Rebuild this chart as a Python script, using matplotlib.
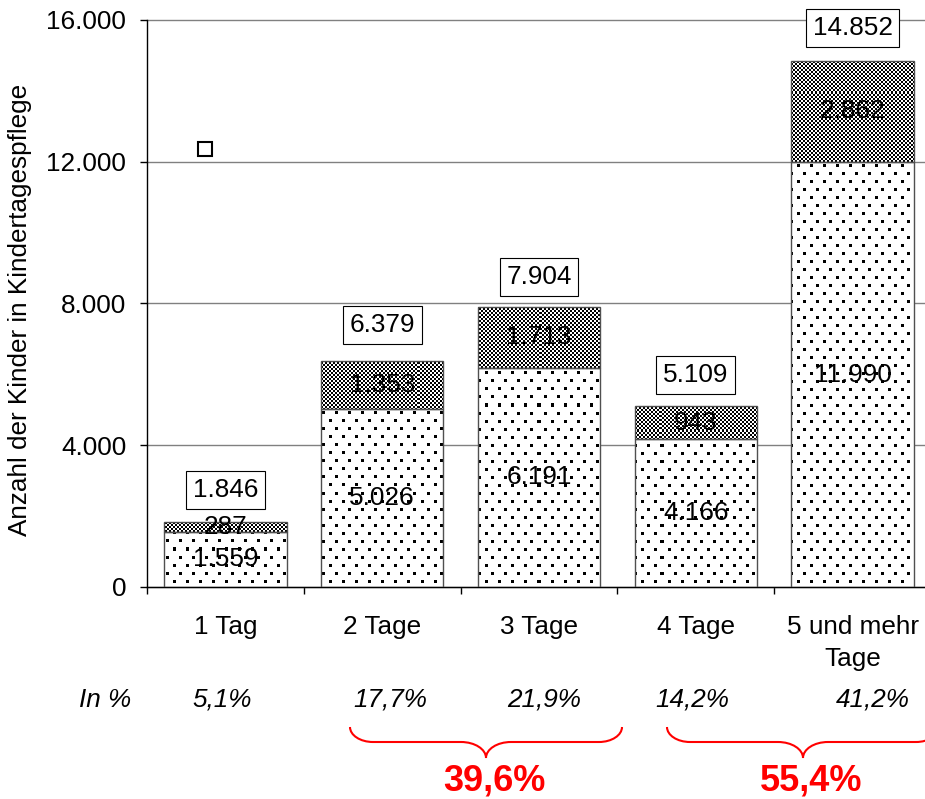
import numpy as np
import matplotlib
matplotlib.use("Agg")
import matplotlib.pyplot as plt
from matplotlib.path import Path
from matplotlib.patches import PathPatch
from matplotlib.transforms import Affine2D, blended_transform_factory
from matplotlib.ticker import FuncFormatter, FixedLocator

# ---------------- data ----------------
categories = ["1 Tag", "2 Tage", "3 Tage", "4 Tage", "5 und mehr\nTage"]
base_values = [1559, 5026, 6191, 4166, 11990]
top_values = [287, 1353, 1713, 943, 2862]
totals = [1846, 6379, 7904, 5109, 14852]
shares = ["5,1%", "17,7%", "21,9%", "14,2%", "41,2%"]
share_title = "In %"
group_totals = ["39,6%", "55,4%"]
y_ticks = [0, 4000, 8000, 12000, 16000]
y_label = "Anzahl der Kinder in Kindertagespflege"
stray_marker = (-0.13, 12360)

# ---------------- layout / style ----------------
total_label_y = [2737, 7393, 8748, 5982, 15774]
share_x_offset = [-0.02, 0.05, 0.03, -0.02, 0.13]
FW, FH = 925, 799
plt.rcParams["font.family"] = ["Liberation Sans", "DejaVu Sans"]
FS = 18.8

fig = plt.figure(figsize=(FW / 100, FH / 100), dpi=100)
AX_L, AX_T, AX_W, AX_H = 147, 20, 784, 567
ax = fig.add_axes([AX_L / FW, 1 - (AX_T + AX_H) / FH, AX_W / FW, AX_H / FH])
px = Affine2D().scale(1 / FW, -1 / FH).translate(0, 1) + fig.transFigure

x = np.arange(len(categories))
XL = (-0.5, len(categories) - 0.5)
YL = (0, 16000)

bars_base = ax.bar(x, base_values, width=0.78, facecolor="none",
                   edgecolor="#505050", linewidth=1, zorder=3)
bars_top = ax.bar(x, top_values, bottom=base_values, width=0.78, facecolor="none",
                  edgecolor="#505050", linewidth=1, zorder=3)

# fill textures (dotted / checkerboard), clipped to each bar
rr, cc = np.mgrid[0:AX_H, 0:AX_W]
dots = np.ones((AX_H, AX_W))
rowA = (rr % 16) < 3
rowB = ((rr - 8) % 16) < 3
colA = (cc % 13) < 3
colB = ((cc - 6) % 13) < 3
dots[(rowA & colA) | (rowB & colB)] = 0.0
checker = np.where(((rr // 2) + (cc // 2)) % 2 == 0, 0.0, 1.0)

for patches, tex in ((bars_base, dots), (bars_top, checker)):
    for p in patches:
        im = ax.imshow(tex, extent=(XL[0], XL[1], YL[0], YL[1]), origin="upper",
                       cmap="gray", vmin=0, vmax=1, interpolation="nearest",
                       aspect="auto", zorder=2)
        im.set_clip_path(p)

ax.set_xlim(*XL)
ax.set_ylim(*YL)

# segment labels
for i in range(len(categories)):
    ax.text(x[i], base_values[i] / 2, f"{base_values[i]:,}".replace(",", "."),
            ha="center", va="center", fontsize=FS, color="black", zorder=6)
    ax.text(x[i], base_values[i] + top_values[i] / 2, f"{top_values[i]:,}".replace(",", "."),
            ha="center", va="center", fontsize=FS, color="black", zorder=6)
    ax.text(x[i], total_label_y[i], f"{totals[i]:,}".replace(",", "."),
            ha="center", va="center", fontsize=FS, color="black", zorder=7,
            bbox=dict(boxstyle="square,pad=0.26", fc="white", ec="black", lw=0.8))

ax.plot([stray_marker[0]], [stray_marker[1]], marker="s", ms=10.5, mfc="white",
        mec="black", mew=1.5, linestyle="none", zorder=6, clip_on=False)

# axes styling
ax.yaxis.set_major_locator(FixedLocator(y_ticks))
ax.yaxis.set_major_formatter(FuncFormatter(lambda v, _: f"{int(v):,}".replace(",", ".")))
ax.set_xticks(x)
ax.set_xticklabels(categories)
for tl in ax.get_xticklabels():
    tl.set_linespacing(1.45)
ax.set_xticks(np.arange(len(categories) + 1) - 0.5, minor=True)
ax.tick_params(axis="x", which="major", length=0, pad=20, labelsize=FS)
ax.tick_params(axis="x", which="minor", length=5, width=1, color="black")
ax.tick_params(axis="y", length=5, width=1, pad=10, labelsize=FS, color="black")
ax.yaxis.grid(True, color="#808080", linewidth=1)
ax.set_axisbelow(True)
for gl in ax.get_ygridlines():
    gl.set_clip_on(False)
for s in ("top", "right"):
    ax.spines[s].set_visible(False)
for s in ("left", "bottom"):
    ax.spines[s].set_color("black")
    ax.spines[s].set_linewidth(1)

fig.text(20, 310, y_label, transform=px, rotation=90, ha="center", va="center", fontsize=FS)

# share row
shareT = blended_transform_factory(ax.transData, px)
ax.text(-0.77, 700, share_title, transform=shareT, ha="center", va="center",
        fontsize=FS, style="italic", clip_on=False)
for i, s in enumerate(shares):
    ax.text(x[i] + share_x_offset[i], 700, s, transform=shareT, ha="center", va="center",
            fontsize=FS, style="italic", clip_on=False)

# braces
def brace(left, right, yt=727, ym=742, yp=758, r=23, r2=25):
    c = (left + right) / 2
    k = 0.552
    verts = [
        (left, yt),
        (left, yt + k * (ym - yt)), (left + r - k * r, ym), (left + r, ym),
        (c - r2, ym),
        (c - r2 + k * r2, ym), (c, yp - k * (yp - ym)), (c, yp),
        (c, yp - k * (yp - ym)), (c + r2 - k * r2, ym), (c + r2, ym),
        (right - r, ym),
        (right - r + k * r, ym), (right, yt + k * (ym - yt)), (right, yt),
    ]
    codes = [Path.MOVETO] + [Path.CURVE4] * 3 + [Path.LINETO] + [Path.CURVE4] * 6 \
        + [Path.LINETO] + [Path.CURVE4] * 3
    fig.add_artist(PathPatch(Path(verts, codes), transform=px, fill=False,
                             edgecolor="#ff0000", linewidth=1.5))

brace_spans = [(350, 622), (667, 939)]
for (l, rgt), lab in zip(brace_spans, group_totals):
    brace(l, rgt)
    fig.text((l + rgt) / 2 + 8, 781, lab, transform=px, ha="center", va="center",
             fontsize=26, fontweight="bold", color="#ff0000")

fig.savefig("out.png", dpi=100)
